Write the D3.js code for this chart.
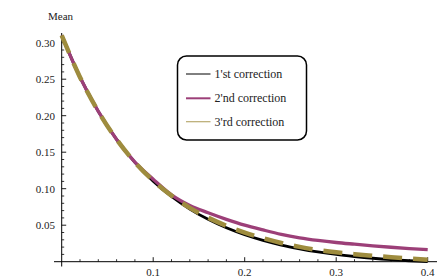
<!DOCTYPE html>
<html><head><meta charset="utf-8">
<script src="https://cdn.jsdelivr.net/npm/d3@7"></script>
<style>body{margin:0;background:#fff}svg{display:block}</style>
</head><body><svg id="c" width="446" height="279"></svg>
<script>
const xs = [0,0.02,0.04,0.06,0.08,0.10,0.12,0.14,0.16,0.18,0.20,0.22,0.24,0.26,0.28,0.30,0.32,0.34,0.36,0.38,0.40];
const first  = [0.310,0.2527,0.2059,0.1675,0.1361,0.1104,0.0893,0.0721,0.0580,0.0464,0.0369,0.0292,0.0228,0.0177,0.0134,0.0099,0.0071,0.0047,0.0028,0.0013,0.0000];
const second = [0.310,0.2527,0.2059,0.1675,0.1365,0.1130,0.0915,0.0770,0.0670,0.0580,0.0500,0.0435,0.0375,0.0328,0.0292,0.0263,0.0240,0.0218,0.0198,0.0180,0.0165];
const third  = [0.310,0.2527,0.2059,0.1675,0.1362,0.1110,0.0905,0.0738,0.0603,0.0492,0.0398,0.0322,0.0257,0.0203,0.0160,0.0128,0.0103,0.0082,0.0062,0.0045,0.0028];
const seriesNames = ["1'st correction","2'nd correction","3'rd correction"];
const xTickLabels = [0.1,0.2,0.3,0.4];
const yTickLabels = [0.05,0.10,0.15,0.20,0.25,0.30];

const svg = d3.select("#c");
const x = d3.scaleLinear().domain([0,0.4]).range([61.7,427.7]);
const y = d3.scaleLinear().domain([0,0.3]).range([261.7,42.7]);
const ff = "Liberation Serif";

svg.append("line").attr("x1",54).attr("x2",437).attr("y1",y(0)).attr("y2",y(0)).attr("stroke","#000").attr("stroke-width",1);
svg.append("line").attr("x1",x(0)).attr("x2",x(0)).attr("y1",33).attr("y2",266.5).attr("stroke","#000").attr("stroke-width",1);

const xMinor = d3.range(1,20).map(i=>i*0.02).filter(v=>Math.abs(v*10-Math.round(v*10))>1e-6);
svg.selectAll(".xmin").data(xMinor).join("line").attr("x1",d=>x(d)).attr("x2",d=>x(d)).attr("y1",y(0)).attr("y2",y(0)-2.5).attr("stroke","#000").attr("stroke-width",0.8);
svg.selectAll(".xmaj").data(xTickLabels).join("line").attr("x1",d=>x(d)).attr("x2",d=>x(d)).attr("y1",y(0)).attr("y2",y(0)-4.5).attr("stroke","#000").attr("stroke-width",0.9);
svg.selectAll(".xl").data(xTickLabels).join("text").attr("x",d=>x(d)).attr("y",275.5).attr("text-anchor","middle").attr("font-family",ff).attr("font-size",11).attr("fill","#222").text(d=>d3.format(".1f")(d));

const yMinor = d3.range(1,31).map(i=>i*0.01).filter(v=>Math.abs(v*20-Math.round(v*20))>1e-6);
svg.selectAll(".ymin").data(yMinor).join("line").attr("x1",x(0)).attr("x2",x(0)+2.5).attr("y1",d=>y(d)).attr("y2",d=>y(d)).attr("stroke","#000").attr("stroke-width",0.8);
svg.selectAll(".ymaj").data(yTickLabels).join("line").attr("x1",x(0)).attr("x2",x(0)+4.5).attr("y1",d=>y(d)).attr("y2",d=>y(d)).attr("stroke","#000").attr("stroke-width",0.9);
svg.selectAll(".yl").data(yTickLabels).join("text").attr("x",55).attr("y",d=>y(d)+3.8).attr("text-anchor","end").attr("font-family",ff).attr("font-size",11).attr("fill","#222").text(d=>d3.format(".2f")(d));

svg.append("text").attr("x",48).attr("y",20).attr("font-family",ff).attr("font-size",11).attr("fill","#222").text("Mean");

const pts = ys => xs.map((v,i)=>[v,ys[i]]);
const line = d3.line().x(d=>x(d[0])).y(d=>y(d[1])).curve(d3.curveMonotoneX);
const g = svg.append("g");
g.append("path").attr("d",line(pts(first))).attr("fill","none").attr("stroke","#000").attr("stroke-width",2.8);
g.append("path").attr("d",line(pts(second))).attr("fill","none").attr("stroke","#9c3f78").attr("stroke-width",3.3);
g.append("path").attr("d",line(pts(third))).attr("fill","none").attr("stroke","#9e8c3e").attr("stroke-width",4.5).attr("stroke-dasharray","19,11");

svg.append("rect").attr("x",177.5).attr("y",56).attr("width",129).attr("height",84).attr("rx",9).attr("fill","#fff").attr("stroke","#000").attr("stroke-width",1.5);
const lc = ["#000","#9c3f78","#b8aa70"], lw=[1,2,1.2];
const rows = [74,98.3,121.7];
seriesNames.forEach((n,i)=>{
  svg.append("line").attr("x1",186).attr("x2",210.5).attr("y1",rows[i]).attr("y2",rows[i]).attr("stroke",lc[i]).attr("stroke-width",lw[i]);
  svg.append("text").attr("x",214.5).attr("y",rows[i]+4).attr("font-family",ff).attr("font-size",12).attr("fill","#222").text(n);
});
</script></body></html>
